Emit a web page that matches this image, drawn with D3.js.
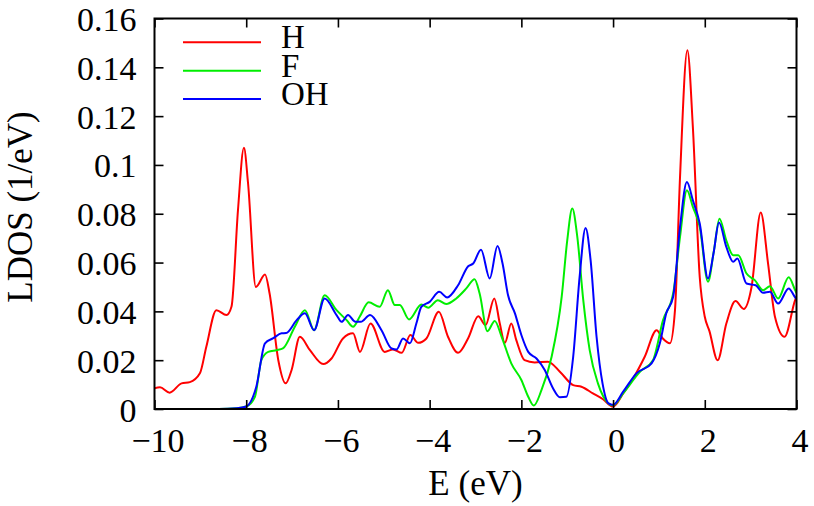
<!DOCTYPE html>
<html>
<head>
<meta charset="utf-8">
<script src="https://cdn.jsdelivr.net/npm/d3@7"></script>
</head>
<body style="margin:0">
<svg id="chart" width="814" height="506" style="display:block;background:#fff;font-family:'Times New Roman','Liberation Serif',serif"></svg>
<script>
// ---- data ----
const seriesNames = ["H", "F", "OH"];
const seriesColors = ["#ff0000", "#00ee00", "#0000ff"];
const xTicks = [-10, -8, -6, -4, -2, 0, 2, 4];
const yTicks = [0, 0.02, 0.04, 0.06, 0.08, 0.1, 0.12, 0.14, 0.16];
const yTickLabels = ["0", "0.02", "0.04", "0.06", "0.08", "0.1", "0.12", "0.14", "0.16"];

const energyH = [-10,-9.88,-9.67,-9.41,-9.23,-9.01,-8.87,-8.65,-8.43,-8.32,-8.18,-8.05,-7.96,-7.79,-7.59,-7.49,-7.30,-7.14,-7.01,-6.83,-6.61,-6.32,-6.14,-5.89,-5.67,-5.52,-5.29,-4.98,-4.80,-4.61,-4.42,-4.25,-4.07,-3.80,-3.60,-3.38,-3.16,-2.94,-2.78,-2.59,-2.47,-2.36,-2.22,-2.11,-1.93,-1.71,-1.42,-1.16,-0.87,-0.69,-0.44,-0.22,0.0,0.22,0.44,0.69,0.95,1.08,1.24,1.35,1.46,1.62,1.74,1.89,2.0,2.10,2.28,2.47,2.67,2.85,3.02,3.22,3.38,3.53,3.74,3.97,4.0];
const ldosH = [0.0085,0.0089,0.0067,0.0105,0.011,0.0146,0.0255,0.0405,0.0385,0.042,0.0814,0.107,0.0925,0.050,0.0551,0.0473,0.020,0.0105,0.016,0.0296,0.0241,0.0184,0.0207,0.0289,0.031,0.0234,0.035,0.0234,0.0244,0.023,0.0303,0.0271,0.0289,0.0398,0.0296,0.023,0.029,0.038,0.0344,0.0453,0.035,0.0271,0.035,0.0282,0.020,0.0191,0.0194,0.0153,0.0098,0.0091,0.0064,0.004,0.001,0.0064,0.0126,0.0214,0.0323,0.029,0.0269,0.0405,0.095,0.147,0.1155,0.054,0.0378,0.032,0.020,0.035,0.0442,0.041,0.050,0.0805,0.0596,0.0378,0.0296,0.0446,0.046];

const energyF = [-10,-8.6,-8.2,-8.0,-7.81,-7.67,-7.52,-7.34,-7.20,-6.94,-6.72,-6.52,-6.29,-6.03,-5.81,-5.67,-5.52,-5.33,-5.09,-4.91,-4.76,-4.65,-4.45,-4.18,-4.03,-3.82,-3.64,-3.42,-3.20,-3.02,-2.91,-2.74,-2.58,-2.43,-2.22,-2.0,-1.85,-1.73,-1.56,-1.34,-1.12,-1.0,-0.89,-0.78,-0.65,-0.51,-0.33,-0.10,0.0,0.22,0.59,0.87,1.09,1.31,1.46,1.61,1.74,1.89,2.07,2.20,2.32,2.47,2.62,2.73,2.91,3.09,3.27,3.42,3.60,3.83,3.97,4.0];
const ldosF = [0,0,0.0003,0.001,0.005,0.020,0.0234,0.0241,0.0248,0.0337,0.0405,0.0323,0.0466,0.0405,0.0364,0.0337,0.038,0.0437,0.0419,0.0487,0.0426,0.0426,0.0367,0.0428,0.0415,0.0446,0.043,0.0453,0.0494,0.0532,0.0473,0.0319,0.0361,0.0296,0.0187,0.0119,0.005,0.0014,0.0078,0.0214,0.046,0.069,0.0821,0.0705,0.0446,0.0241,0.0105,0.0023,0.0015,0.0064,0.0153,0.020,0.0364,0.0473,0.0705,0.0896,0.0828,0.0746,0.0521,0.065,0.078,0.069,0.063,0.063,0.0555,0.0528,0.0487,0.0503,0.0453,0.054,0.0487,0.0475];

const energyOH = [-10,-8.6,-8.2,-8.0,-7.78,-7.59,-7.41,-7.23,-7.13,-6.90,-6.72,-6.52,-6.29,-6.03,-5.92,-5.78,-5.62,-5.50,-5.30,-5.05,-4.83,-4.72,-4.58,-4.43,-4.29,-4.18,-4.0,-3.79,-3.62,-3.38,-3.16,-3.05,-2.88,-2.69,-2.52,-2.41,-2.29,-2.14,-2.0,-1.85,-1.67,-1.49,-1.31,-1.16,-1.02,-0.87,-0.73,-0.60,-0.49,-0.36,-0.23,-0.10,0.0,0.22,0.51,0.84,1.02,1.16,1.31,1.46,1.61,1.74,1.89,2.07,2.19,2.31,2.47,2.62,2.71,2.91,3.11,3.27,3.42,3.60,3.83,3.97,4.0];
const ldosOH = [0,0,0.0003,0.001,0.0091,0.0269,0.029,0.031,0.0311,0.0364,0.0392,0.0323,0.0453,0.0385,0.0357,0.0385,0.0357,0.0357,0.0385,0.0323,0.0248,0.0244,0.0289,0.0269,0.035,0.0419,0.0439,0.048,0.0457,0.0507,0.0585,0.0596,0.0653,0.0535,0.0668,0.0596,0.0466,0.0392,0.0303,0.0234,0.0207,0.016,0.0085,0.0048,0.005,0.0214,0.054,0.0742,0.061,0.0296,0.0105,0.0023,0.0017,0.0071,0.0146,0.0187,0.0269,0.0392,0.046,0.0746,0.093,0.0855,0.076,0.0535,0.0637,0.0764,0.0664,0.0603,0.0617,0.0514,0.0507,0.0476,0.048,0.0432,0.0494,0.0457,0.045];

const seriesEnergy = [energyH, energyF, energyOH];
const seriesLdos = [ldosH, ldosF, ldosOH];

// ---- layout ----
const svg = d3.select("#chart");
const L = 154.5, R = 796.5, T = 18.5, B = 409;
const x = d3.scaleLinear().domain([-10, 4]).range([L, R]);
const y = d3.scaleLinear().domain([0, 0.16]).range([B, T]);
const tickLen = 9;
const tickFont = 34;
const titleFont = 35;

function serif(sel, size) {
  sel.style("font-family", "'Times New Roman', 'Liberation Serif', serif")
     .style("font-size", size + "px")
     .attr("fill", "#000");
  return sel;
}

svg.append("defs").append("clipPath").attr("id", "clip")
  .append("rect").attr("x", L).attr("y", T).attr("width", R - L).attr("height", B - T);

// lines
const line = d3.line().x(d => x(d[0])).y(d => y(d[1])).curve(d3.curveMonotoneX);
const plot = svg.append("g").attr("clip-path", "url(#clip)");
seriesNames.forEach((name, i) => {
  const pts = seriesEnergy[i].map((e, k) => [e, seriesLdos[i][k]]);
  plot.append("path").datum(pts)
    .attr("d", line)
    .attr("fill", "none")
    .attr("stroke", seriesColors[i])
    .attr("stroke-width", 2)
    .attr("stroke-linejoin", "round");
});

// axes (inner ticks, mirrored)
const axB = svg.append("g").attr("transform", `translate(0,${B})`)
  .call(d3.axisBottom(x).tickValues(xTicks).tickSize(-tickLen).tickPadding(0)
    .tickFormat(d => d < 0 ? "\u2212" + Math.abs(d) : String(d)));
const axT = svg.append("g").attr("transform", `translate(0,${T})`)
  .call(d3.axisTop(x).tickValues(xTicks).tickSize(-tickLen).tickFormat(""));
const axL = svg.append("g").attr("transform", `translate(${L},0)`)
  .call(d3.axisLeft(y).tickValues(yTicks).tickSize(-tickLen).tickPadding(18)
    .tickFormat((d, i) => yTickLabels[i]));
const axR = svg.append("g").attr("transform", `translate(${R},0)`)
  .call(d3.axisRight(y).tickValues(yTicks).tickSize(-tickLen).tickFormat(""));

[axB, axT, axL, axR].forEach(g => {
  g.attr("font-family", null).attr("font-size", null);
  g.select(".domain").remove();
  g.selectAll(".tick line").attr("stroke", "#000").attr("stroke-width", 1.6);
  serif(g.selectAll("text"), tickFont);
});
axB.selectAll(".tick text").attr("y", 43).attr("dy", null).attr("dx", 3);
axL.selectAll(".tick text").attr("dy", null).attr("y", 12);

// frame
svg.append("rect").attr("x", L).attr("y", T).attr("width", R - L).attr("height", B - T)
  .attr("fill", "none").attr("stroke", "#000").attr("stroke-width", 2);

// axis titles
serif(svg.append("text").attr("x", (L + R) / 2).attr("y", 495)
  .attr("text-anchor", "middle"), titleFont).text("E (eV)");
serif(svg.append("text")
  .attr("transform", `translate(32,207) rotate(-90)`)
  .attr("text-anchor", "middle"), titleFont).text("LDOS (1/eV)");

// legend
const legY = [42.3, 70.7, 99];
const leg = svg.append("g");
seriesNames.forEach((name, i) => {
  leg.append("line").attr("x1", 183).attr("x2", 261).attr("y1", legY[i]).attr("y2", legY[i])
    .attr("stroke", seriesColors[i]).attr("stroke-width", 2);
  serif(leg.append("text").attr("x", 281).attr("y", legY[i] + 6), 33).text(name);
});
</script>
</body>
</html>
